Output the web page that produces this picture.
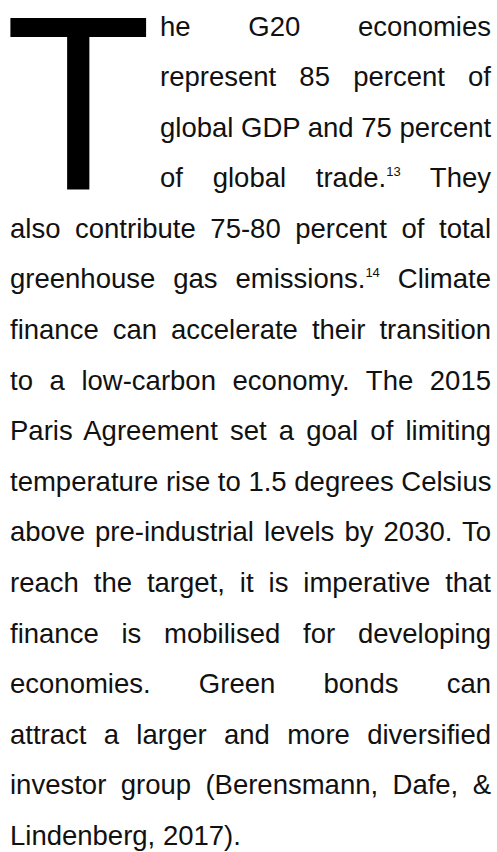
<!DOCTYPE html>
<html>
<head>
<meta charset="utf-8">
<script src="https://cdn.jsdelivr.net/npm/chart.js@4"></script>
<style>
  html, body { margin: 0; padding: 0; background: #fff; }
  body { width: 497px; height: 852px; overflow: hidden; position: relative; }
  /* 큰 머리글자 T */
  .drop {
    position: absolute;
    left: 5px;
    top: 20px;
    height: 172px;
    font-family: "Liberation Sans", Arial, sans-serif;
    font-size: 240px;
    line-height: 172px;
    color: #000;
    transform: scaleY(1.04);
    transform-origin: 0 167px;
  }
  .page {
    position: absolute;
    left: 10px;
    top: 1.5px;
    width: 481px;
    font-family: "Liberation Sans", Arial, sans-serif;
    font-size: 27.5px;
    line-height: 50.6px;
    color: #111;
  }
  .page div { text-align: justify; text-align-last: justify; white-space: nowrap; }
  .page div.in { padding-left: 150px; }
  .page div.last { text-align-last: left; }
  sup { font-size: 13px; line-height: 0; vertical-align: 11px; }
</style>
</head>
<body>
<div class="drop">T</div>
<div class="page">
  <div class="in">he G20 economies</div>
  <div class="in">represent 85 percent of</div>
  <div class="in">global GDP and 75 percent</div>
  <div class="in">of global trade.<sup>13</sup> They</div>
  <div>also contribute 75-80 percent of total</div>
  <div>greenhouse gas emissions.<sup>14</sup> Climate</div>
  <div>finance can accelerate their transition</div>
  <div>to a low-carbon economy. The 2015</div>
  <div>Paris Agreement set a goal of limiting</div>
  <div>temperature rise to 1.5 degrees Celsius</div>
  <div>above pre-industrial levels by 2030. To</div>
  <div>reach the target, it is imperative that</div>
  <div>finance is mobilised for developing</div>
  <div>economies. Green bonds can</div>
  <div>attract a larger and more diversified</div>
  <div>investor group (Berensmann, Dafe, &amp;</div>
  <div class="last">Lindenberg, 2017).</div>
</div>
</body>
</html>
